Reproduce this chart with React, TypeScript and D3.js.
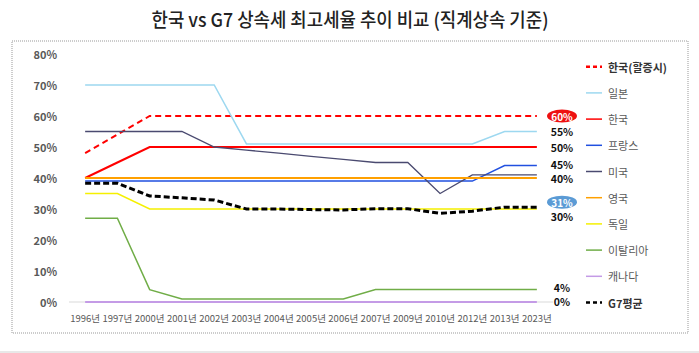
import React from "react";
import * as d3 from "d3";

const years = ["1996년", "1997년", "2000년", "2001년", "2002년", "2003년", "2004년", "2005년", "2006년", "2007년", "2009년", "2010년", "2012년", "2013년", "2023년"];

const koreaSurcharge = [48, 54, 60, 60, 60, 60, 60, 60, 60, 60, 60, 60, 60, 60, 60];
const japan = [70, 70, 70, 70, 70, 51, 51, 51, 51, 51, 51, 51, 51, 55, 55];
const korea = [40, 45, 50, 50, 50, 50, 50, 50, 50, 50, 50, 50, 50, 50, 50];
const france = [39, 39, 39, 39, 39, 39, 39, 39, 39, 39, 39, 39, 39, 44, 44];
const usa = [55, 55, 55, 55, 50, 49, 48, 47, 46, 45, 45, 35, 41, 41, 41];
const uk = [40, 40, 40, 40, 40, 40, 40, 40, 40, 40, 40, 40, 40, 40, 40];
const germany = [35, 35, 30, 30, 30, 30, 30, 30, 30, 30, 30, 30, 30, 30, 30];
const italy = [27, 27, 4, 1, 1, 1, 1, 1, 1, 4, 4, 4, 4, 4, 4];
const canada = [0, 0, 0, 0, 0, 0, 0, 0, 0, 0, 0, 0, 0, 0, 0];
const g7avg = [38.3, 38.3, 34.2, 33.6, 32.9, 30, 30, 29.8, 29.7, 30.1, 30.1, 28.6, 29.3, 30.6, 30.6];

const yTicks = [0, 10, 20, 30, 40, 50, 60, 70, 80];

const series = [
  { name: "한국(할증시)", values: koreaSurcharge, color: "#ff0000", width: 2, dash: "6,4", bold: true },
  { name: "일본", values: japan, color: "#9dd8f0", width: 1.5, dash: null, bold: false },
  { name: "한국", values: korea, color: "#ff0000", width: 2, dash: null, bold: false },
  { name: "프랑스", values: france, color: "#2150e0", width: 1.5, dash: null, bold: false },
  { name: "미국", values: usa, color: "#4a4a70", width: 1.3, dash: null, bold: false },
  { name: "영국", values: uk, color: "#ffa000", width: 2, dash: null, bold: false },
  { name: "독일", values: germany, color: "#f5f000", width: 1.5, dash: null, bold: false },
  { name: "이탈리아", values: italy, color: "#70ad47", width: 1.5, dash: null, bold: false },
  { name: "캐나다", values: canada, color: "#c49be6", width: 2, dash: null, bold: false },
  { name: "G7평균", values: g7avg, color: "#000000", width: 3, dash: "6,3", bold: true },
];

// end labels: series name, text, badge colour (if any)
const endLabels = [
  { series: "한국(할증시)", text: "60%", badge: "#ee1111" },
  { series: "일본", text: "55%", badge: null },
  { series: "한국", text: "50%", badge: null },
  { series: "프랑스", text: "45%", badge: null },
  { series: "미국", text: "40%", badge: null },
  { series: "G7평균", text: "31%", badge: "#5b9bd5" },
  { series: "독일", text: "30%", badge: null },
  { series: "이탈리아", text: "4%", badge: null },
  { series: "캐나다", text: "0%", badge: null },
];
const labelNudge: Record<string, number> = { "미국": 3.5, "G7평균": -5, "독일": 7, "이탈리아": -2.5, "캐나다": -1, "프랑스": -1.5 };

const font = "'Noto Sans CJK KR', 'Noto Sans', sans-serif";

export default function App() {
  const x = d3.scalePoint<string>().domain(years).range([69, 553]).padding(0.5);
  const y = d3.scaleLinear().domain([0, 80]).range([302, 54]);
  const line = d3.line<number>().x((_, i) => x(years[i])!).y((d) => y(d));

  const labelX = 562;

  return (
    <svg width={699} height={353} style={{ position: "absolute", left: 0, top: 0, background: "#fff" }} fontFamily={font}>
      <rect x={0} y={0} width={699} height={353} fill="#fff" />
      <text x={350} y={27} textAnchor="middle" fontSize={19} fontWeight={500} fill="#222" textLength={397} lengthAdjust="spacingAndGlyphs">
        한국 vs G7 상속세 최고세율 추이 비교 (직계상속 기준)
      </text>
      <rect x={12} y={41} width={676} height={292} fill="none" stroke="#999" strokeDasharray="1,1" />
      <rect x={0} y={351} width={699} height={2} fill="#e8e8e8" />

      {yTicks.map((t) => (
        <text key={t} x={57} y={y(t)} textAnchor="end" dominantBaseline="central" fontSize={11} fontWeight={600} fill="#595959">
          {t}%
        </text>
      ))}
      <line x1={69} x2={553} y1={y(0)} y2={y(0)} stroke="#d9d9d9" strokeWidth={1} />

      {years.map((yr) => (
        <text key={yr} x={x(yr)} y={318} textAnchor="middle" dominantBaseline="central" fontSize={9.5} fill="#595959">
          {yr}
        </text>
      ))}

      {series.map((s) => (
        <path key={s.name} d={line(s.values) || ""} fill="none" stroke={s.color} strokeWidth={s.width} strokeDasharray={s.dash || undefined} />
      ))}

      {endLabels.map((l) => {
        const s = series.find((d) => d.name === l.series)!;
        const cy = y(s.values[s.values.length - 1]) + (labelNudge[l.series] || 0);
        return (
          <g key={l.series}>
            {l.badge && <ellipse cx={labelX} cy={cy} rx={15} ry={6.5} fill={l.badge} />}
            <text x={labelX} y={cy} textAnchor="middle" dominantBaseline="central" fontSize={l.badge ? 10 : 10.5} fontWeight={700} fill={l.badge ? "#fff" : "#111"}>
              {l.text}
            </text>
          </g>
        );
      })}

      {series.map((s, i) => {
        const ly = 66.7 + i * 26.2;
        return (
          <g key={"lg" + s.name}>
            <line x1={586} x2={602} y1={ly} y2={ly} stroke={s.color} strokeWidth={s.dash ? 2.5 : 1.5} strokeDasharray={s.dash ? "4,3" : undefined} />
            <text x={608} y={ly} dominantBaseline="central" fontSize={11} fontWeight={s.bold ? 700 : 400} fill={s.bold ? "#333" : "#595959"}>
              {s.name}
            </text>
          </g>
        );
      })}
    </svg>
  );
}
